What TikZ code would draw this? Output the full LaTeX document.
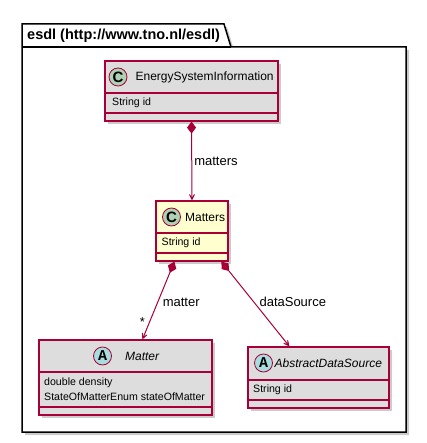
\documentclass[tikz,border=0pt]{standalone}
\usepackage{fontspec}
\setmainfont{Liberation Sans}
\setmonofont{Liberation Mono}
\usetikzlibrary{positioning,arrows.meta,shadows}

\definecolor{umlred}{HTML}{A80036}
\definecolor{umlyellow}{HTML}{FEFECE}
\definecolor{umlgray}{HTML}{DDDDDD}
\definecolor{iconC}{HTML}{ADD1B2}
\definecolor{iconA}{HTML}{A9DCDF}

\newcommand{\pkgfont}{\fontsize{14.5}{16}\selectfont\bfseries}
\newcommand{\namefont}{\fontsize{12}{14}\selectfont}
\newcommand{\attrfont}{\fontsize{10.6}{13}\selectfont}
\newcommand{\lblfont}{\fontsize{13}{15}\selectfont}
\newcommand{\iconfont}{\fontsize{15}{17}\selectfont\bfseries}

\tikzset{
  umlshadow/.style={drop shadow={shadow xshift=3pt, shadow yshift=-3pt, fill=black!45, opacity=.45}},
  pkg/.style={draw=black, line width=1.5pt, fill=white, umlshadow},
  classbox/.style={draw=umlred, line width=1.2pt, fill=umlgray, umlshadow, inner sep=0pt},
  sep/.style={draw=umlred, line width=1.2pt},
  icon/.style={circle, draw=umlred, line width=.8pt, minimum size=18pt, inner sep=0pt, font=\iconfont},
  clsname/.style={inner sep=0pt, font=\namefont},
  attr/.style={inner sep=0pt, font=\attrfont, anchor=west},
  lbl/.style={inner sep=0pt, font=\lblfont},
  comp/.style={draw=umlred, line width=1pt,
    {Diamond[length=12pt, width=9pt]}-{Stealth[length=10pt, width=10pt, inset=7pt]}}
}

\begin{document}
\begin{tikzpicture}[x=1pt, y=-1pt]
\useasboundingbox (0,0) rectangle (426,443);

% package
\draw[pkg] (22,24) -- (224,24) -- (231,47) -- (406,47) -- (406,432) -- (22,432) -- cycle;
\draw[line width=1.5pt] (22,47) -- (231,47);
\node[inner sep=0pt, anchor=west, font=\pkgfont] (pkg) at (27,36) {esdl (http://www.tno.nl/esdl)};

% EnergySystemInformation
\node[classbox, minimum width=173pt, minimum height=60pt] (esi) at (191.5,91) {};
\draw[sep] (esi.west |- 0,93) -- (esi.east |- 0,93);
\draw[sep] (esi.west |- 0,113) -- (esi.east |- 0,113);
\node[icon, fill=iconC] (esiC) at (118,77) {C};
\node[clsname, right=8pt of esiC] (esiN) {EnergySystemInformation};
\node[attr] (esiA) at (112,103) {String id};

% Matters
\node[classbox, fill=umlyellow, minimum width=72pt, minimum height=60pt] (matters) at (192,231) {};
\draw[sep] (matters.west |- 0,233) -- (matters.east |- 0,233);
\draw[sep] (matters.west |- 0,253) -- (matters.east |- 0,253);
\node[icon, fill=iconC] (mattersC) at (171.5,217) {C};
\node[clsname, right=4pt of mattersC] (mattersN) {Matters};
\node[attr] (mattersA) at (161.5,243) {String id};

% Matter
\node[classbox, minimum width=173pt, minimum height=75pt] (matter) at (125.5,377.5) {};
\draw[sep] (matter.west |- 0,372) -- (matter.east |- 0,372);
\draw[sep] (matter.west |- 0,407) -- (matter.east |- 0,407);
\node[icon, fill=iconA] (matterC) at (102.5,356) {\ttfamily A};
\node[clsname, right=13pt of matterC] (matterN) {\itshape Matter};
\node[attr] (matterA) at (44,383) {double density};
\node[attr] (matterB) at (44,397) {StateOfMatterEnum stateOfMatter};

% AbstractDataSource
\node[classbox, minimum width=141pt, minimum height=61pt] (ads) at (318.5,377.5) {};
\draw[sep] (ads.west |- 0,380) -- (ads.east |- 0,380);
\draw[sep] (ads.west |- 0,400) -- (ads.east |- 0,400);
\node[icon, fill=iconA] (adsC) at (263.5,363) {\ttfamily A};
\node[clsname, right=1.5pt of adsC] (adsN) {\itshape AbstractDataSource};
\node[attr] (adsA) at (253,390) {String id};

% connectors
\draw[comp] (esi.south) -- node[lbl, anchor=west, xshift=2pt] (lblMatters) {matters} (matters.north);
\draw[comp] ([xshift=19pt]matters.south west) --
  node[lbl, pos=.52, anchor=west, xshift=4.5pt] (lblMatter) {matter}
  node[lbl, pos=.78, anchor=east, xshift=-4pt] (multMatter) {*}
  ([xshift=104pt]matter.north west);
\draw[comp] ([xshift=66pt]matters.south west) --
  node[lbl, pos=.48, anchor=west, xshift=5pt] (lblSource) {dataSource}
  ([xshift=42pt]ads.north west);
\end{tikzpicture}
\end{document}
